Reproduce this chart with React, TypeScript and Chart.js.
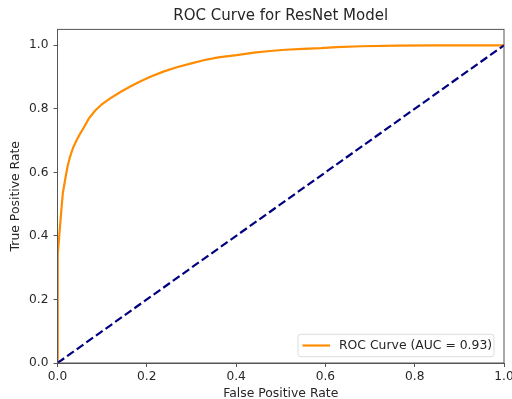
import React, { useEffect, useRef } from "react";
import { Chart, registerables } from "chart.js";

Chart.register(...registerables);

const chartTitle = "ROC Curve for ResNet Model";
const xAxisLabel = "False Positive Rate";
const yAxisLabel = "True Positive Rate";
const rocLabel = "ROC Curve (AUC = 0.93)";

const fpr = [0, 0, 0.001, 0.002, 0.005, 0.008, 0.012, 0.017, 0.022, 0.028, 0.035, 0.043, 0.05, 0.058, 0.07, 0.084, 0.1, 0.118, 0.14, 0.163, 0.185, 0.208, 0.237, 0.267, 0.3, 0.327, 0.36, 0.401, 0.44, 0.476, 0.51, 0.55, 0.59, 0.625, 0.68, 0.76, 0.85, 1.0];
const tpr = [0, 0.3, 0.34, 0.366, 0.42, 0.471, 0.535, 0.576, 0.615, 0.649, 0.678, 0.702, 0.72, 0.739, 0.769, 0.794, 0.815, 0.833, 0.852, 0.87, 0.886, 0.901, 0.917, 0.931, 0.943, 0.953, 0.962, 0.969, 0.977, 0.982, 0.986, 0.989, 0.991, 0.994, 0.997, 0.999, 1.0, 1.0];

const diagX = [0, 1];
const diagY = [0, 1];

const xTicks = [0, 0.2, 0.4, 0.6, 0.8, 1.0];
const yTicks = [0, 0.2, 0.4, 0.6, 0.8, 1.0];

const FONT = "'DejaVu Sans', sans-serif";
const TEXT = "#262626";
const SPINE = "#555555";
const ORANGE = "#FF8C00";
const NAVY = "#000080";

const decorPlugin = {
  id: "decor",
  afterDatasetsDraw(chart: any) {
    const { ctx, chartArea } = chart;
    const { left, right, top, bottom } = chartArea;
    ctx.save();
    // spines
    ctx.strokeStyle = SPINE;
    ctx.lineWidth = 1;
    ctx.strokeRect(left, top, right - left, bottom - top);

    // legend
    const lw = 196;
    const lh = 22.4;
    const lx = right - 10 - lw;
    const ly = bottom - 6.3 - lh;
    const r = 3;
    ctx.beginPath();
    ctx.moveTo(lx + r, ly);
    ctx.lineTo(lx + lw - r, ly);
    ctx.quadraticCurveTo(lx + lw, ly, lx + lw, ly + r);
    ctx.lineTo(lx + lw, ly + lh - r);
    ctx.quadraticCurveTo(lx + lw, ly + lh, lx + lw - r, ly + lh);
    ctx.lineTo(lx + r, ly + lh);
    ctx.quadraticCurveTo(lx, ly + lh, lx, ly + lh - r);
    ctx.lineTo(lx, ly + r);
    ctx.quadraticCurveTo(lx, ly, lx + r, ly);
    ctx.closePath();
    ctx.fillStyle = "rgba(255,255,255,0.85)";
    ctx.fill();
    ctx.strokeStyle = "#dcdcdc";
    ctx.lineWidth = 1;
    ctx.stroke();

    ctx.beginPath();
    ctx.strokeStyle = ORANGE;
    ctx.lineWidth = 2.2;
    ctx.moveTo(lx + 4.5, ly + lh / 2);
    ctx.lineTo(lx + 32, ly + lh / 2);
    ctx.stroke();

    ctx.fillStyle = TEXT;
    ctx.font = `12.4px ${FONT}`;
    ctx.textAlign = "left";
    ctx.textBaseline = "middle";
    ctx.fillText(rocLabel, lx + 41, ly + lh / 2 + 0.5);

    // title
    const cx = (left + right) / 2;
    ctx.font = `15px ${FONT}`;
    ctx.textAlign = "center";
    ctx.textBaseline = "middle";
    ctx.fillText(chartTitle, cx, 16.5);

    // x axis label
    ctx.font = `12.4px ${FONT}`;
    ctx.fillText(xAxisLabel, cx, 393.5);

    // y axis label
    ctx.save();
    ctx.translate(15.5, (top + bottom) / 2);
    ctx.rotate(-Math.PI / 2);
    ctx.fillText(yAxisLabel, 0, 0);
    ctx.restore();

    ctx.restore();
  },
};

export default function App() {
  const ref = useRef<HTMLCanvasElement | null>(null);

  useEffect(() => {
    if (!ref.current) return;
    const chart = new Chart(ref.current, {
      type: "line",
      data: {
        datasets: [
          {
            label: rocLabel,
            data: fpr.map((x, i) => ({ x, y: tpr[i] })),
            borderColor: ORANGE,
            backgroundColor: ORANGE,
            borderWidth: 2.2,
            pointRadius: 0,
            tension: 0,
            order: 1,
          },
          {
            label: "Random",
            data: diagX.map((x, i) => ({ x, y: diagY[i] })),
            borderColor: NAVY,
            backgroundColor: NAVY,
            borderWidth: 2.2,
            borderDash: [8.2, 3.6],
            pointRadius: 0,
            tension: 0,
            order: 0,
          },
        ],
      },
      options: {
        responsive: false,
        animation: false,
        devicePixelRatio: 1,
        layout: { padding: { top: 29.4, right: 8, left: 0, bottom: 0 } },
        plugins: {
          legend: { display: false },
          title: { display: false },
          tooltip: { enabled: false },
        },
        scales: {
          x: {
            type: "linear",
            min: 0,
            max: 1,
            afterBuildTicks: (scale: any) => {
              scale.ticks = xTicks.map((v) => ({ value: v }));
            },
            afterFit: (scale: any) => {
              scale.height = 36;
              scale.paddingLeft = 0;
              scale.paddingRight = 0;
            },
            grid: {
              drawOnChartArea: false,
              drawTicks: true,
              tickLength: 4,
              tickColor: SPINE,
            },
            border: { display: true, color: SPINE, width: 1 },
            ticks: {
              padding: 3,
              maxRotation: 0,
              autoSkip: false,
              color: TEXT,
              font: { family: FONT, size: 12.2 },
              callback: (v: any) => Number(v).toFixed(1),
            },
          },
          y: {
            type: "linear",
            min: 0,
            max: 1.05,
            afterBuildTicks: (scale: any) => {
              scale.ticks = yTicks.map((v) => ({ value: v }));
            },
            afterFit: (scale: any) => {
              scale.width = 57.5;
            },
            grid: {
              drawOnChartArea: false,
              drawTicks: true,
              tickLength: 4,
              tickColor: SPINE,
            },
            border: { display: true, color: SPINE, width: 1 },
            ticks: {
              padding: 5,
              autoSkip: false,
              color: TEXT,
              font: { family: FONT, size: 12.2 },
              callback: (v: any) => Number(v).toFixed(1),
            },
          },
        },
      },
      plugins: [decorPlugin],
    });
    return () => chart.destroy();
  }, []);

  return (
    <div style={{ position: "absolute", left: 0, top: 0, width: 512, height: 399, overflow: "hidden", background: "#fff" }}>
      <canvas ref={ref} width={512} height={399} style={{ display: "block" }} />
    </div>
  );
}
